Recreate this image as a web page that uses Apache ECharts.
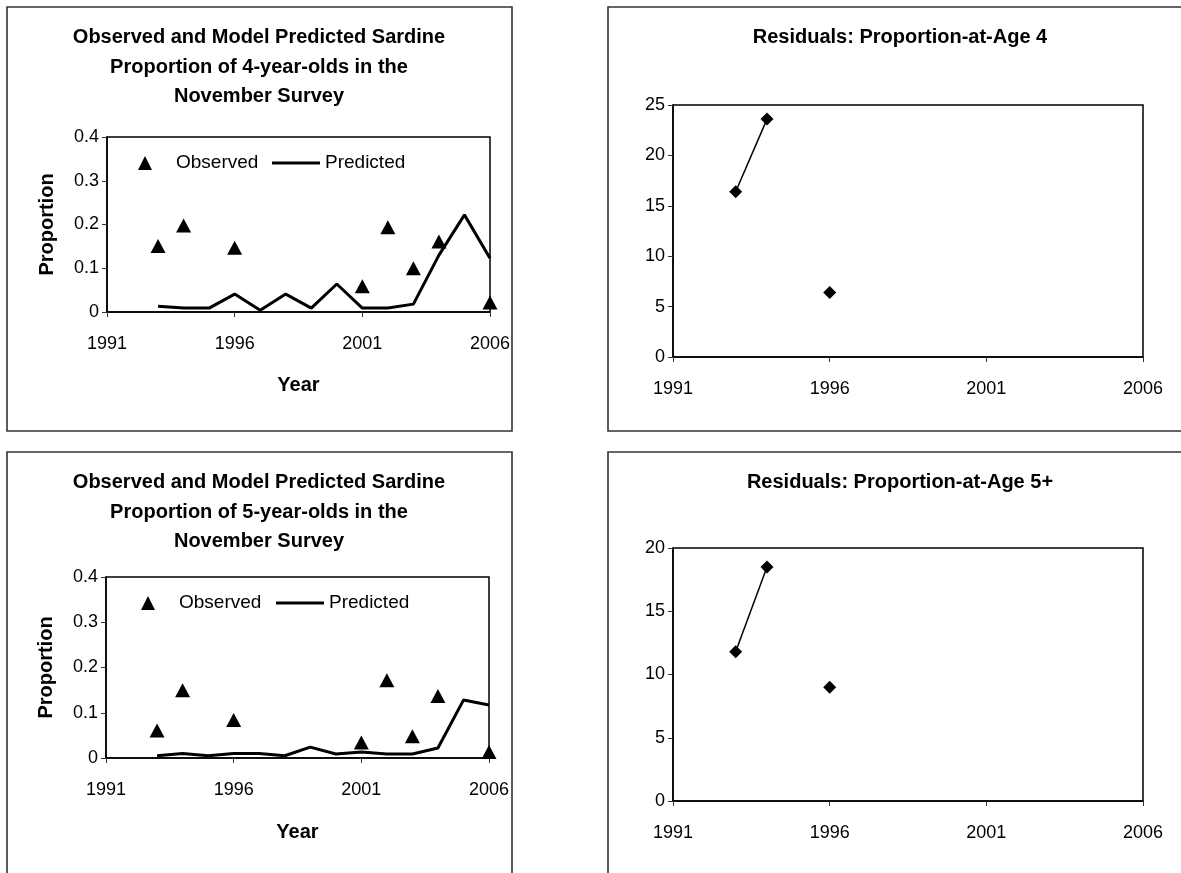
<!DOCTYPE html>
<html>
<head>
<meta charset="utf-8">
<script src="https://cdn.jsdelivr.net/npm/echarts@6/dist/echarts.min.js"></script>
<style>
  html, body { margin: 0; padding: 0; background: #fff; overflow: hidden; }
  #chart { width: 1181px; height: 873px; }
</style>
</head>
<body>
<div id="chart"></div>
<script>
// Survey years and observed proportions (triangles)
const obsYears = [1993, 1994, 1996, 2001, 2002, 2003, 2004, 2006];
const obsAge4 = [0.151, 0.198, 0.147, 0.059, 0.194, 0.100, 0.161, 0.022];
const obsAge5 = [0.061, 0.150, 0.084, 0.034, 0.172, 0.048, 0.137, 0.013];

// Model years and predicted proportions (line)
const predYears = [1993, 1994, 1995, 1996, 1997, 1998, 1999, 2000, 2001, 2002, 2003, 2004, 2005, 2006];
const predAge4 = [0.013, 0.009, 0.009, 0.041, 0.004, 0.041, 0.009, 0.064, 0.009, 0.009, 0.018, 0.130, 0.222, 0.123];
const predAge5 = [0.005, 0.010, 0.005, 0.010, 0.010, 0.005, 0.024, 0.009, 0.013, 0.009, 0.009, 0.022, 0.128, 0.117];

// Residuals (1995 missing, so the line breaks there)
const residYears = [1993, 1994, 1995, 1996];
const residAge4 = [16.4, 23.6, null, 6.4];
const residAge5 = [11.8, 18.5, null, 9.0];

// Axis settings
const yearTicks = { min: 1991, max: 2006, interval: 5 };
const propTicks = { min: 0, max: 0.4, interval: 0.1 };
const resid4Ticks = { min: 0, max: 25, interval: 5 };
const resid5Ticks = { min: 0, max: 20, interval: 5 };

const FONT = '"Liberation Sans", Arial, sans-serif';
const pairs = (xs, ys) => xs.map((x, i) => [x, ys[i]]);

function xAxisCfg(gridIndex, withName, nameGap) {
  return {
    type: 'value', gridIndex,
    min: yearTicks.min, max: yearTicks.max, interval: yearTicks.interval,
    axisLine: { show: true, onZero: false, lineStyle: { color: '#000', width: 1.5 } },
    axisTick: { show: true, inside: false, length: 5, lineStyle: { color: '#333', width: 1 } },
    axisLabel: { color: '#000', fontSize: 18, fontFamily: FONT, margin: 23,
                 formatter: (v) => String(v) },
    splitLine: { show: false },
    name: withName ? 'Year' : '',
    nameLocation: 'middle', nameGap: nameGap,
    nameTextStyle: { color: '#000', fontSize: 20, fontWeight: 'bold', fontFamily: FONT }
  };
}

function yAxisCfg(gridIndex, ticks, withName) {
  return {
    type: 'value', gridIndex,
    min: ticks.min, max: ticks.max, interval: ticks.interval,
    axisLine: { show: true, lineStyle: { color: '#000', width: 1.5 } },
    axisTick: { show: true, inside: false, length: 5, lineStyle: { color: '#333', width: 1 } },
    axisLabel: { color: '#000', fontSize: 18, fontFamily: FONT, margin: 8 },
    splitLine: { show: false },
    name: withName ? 'Proportion' : '',
    nameLocation: 'middle', nameGap: 50,
    nameTextStyle: { color: '#000', fontSize: 20, fontWeight: 'bold', fontFamily: FONT }
  };
}

const gridBase = { show: true, borderColor: '#000', borderWidth: 1.5, backgroundColor: 'transparent' };

function titleText(x, y, text) {
  return {
    type: 'text', x, y, silent: true,
    style: {
      text, fill: '#000', font: 'bold 20px ' + FONT,
      align: 'center', verticalAlign: 'top', lineHeight: 29.5
    }
  };
}

function panel(x, y, w, h) {
  return {
    type: 'rect', silent: true, z: -1,
    shape: { x, y, width: w, height: h },
    style: { fill: 'none', stroke: '#333', lineWidth: 1.6 }
  };
}

// Two one-item legends per panel: triangle marker, then a plain thick line
function legendPair(obsLeft, predLeft, centerY) {
  const common = {
    orient: 'horizontal', selectedMode: false, padding: 0, top: centerY - 8.5,
    textStyle: { color: '#000', fontSize: 19, fontFamily: FONT }
  };
  return [
    Object.assign({}, common, {
      left: obsLeft,
      data: [{ name: 'Observed', icon: 'triangle', itemStyle: { color: '#000', opacity: 1 } }],
      itemWidth: 14, itemHeight: 14,
      textStyle: Object.assign({}, common.textStyle, { padding: [0, 0, 0, 19] })
    }),
    Object.assign({}, common, {
      left: predLeft,
      data: [{ name: 'Predicted', icon: 'rect', itemStyle: { color: '#000' } }],
      itemWidth: 48, itemHeight: 3
    })
  ];
}

const chart = echarts.init(document.getElementById('chart'), null, { renderer: 'canvas' });

chart.setOption({
  animation: false,
  backgroundColor: '#fff',
  textStyle: { fontFamily: FONT },
  graphic: [
    panel(7, 7, 505, 424),
    panel(608, 7, 640, 424),
    panel(7, 452, 505, 460),
    panel(608, 452, 640, 460),
    titleText(259, 23, 'Observed and Model Predicted Sardine\nProportion of 4-year-olds in the\nNovember Survey'),
    titleText(900, 23, 'Residuals: Proportion-at-Age 4'),
    titleText(259, 468, 'Observed and Model Predicted Sardine\nProportion of 5-year-olds in the\nNovember Survey'),
    titleText(900, 468, 'Residuals: Proportion-at-Age 5+')
  ],
  legend: [].concat(legendPair(138, 272, 162), legendPair(141, 276, 602)),
  grid: [
    Object.assign({ left: 107, top: 137, width: 383, height: 175 }, gridBase),
    Object.assign({ left: 673, top: 105, width: 470, height: 252 }, gridBase),
    Object.assign({ left: 106, top: 577, width: 383, height: 181 }, gridBase),
    Object.assign({ left: 673, top: 548, width: 470, height: 253 }, gridBase)
  ],
  xAxis: [
    xAxisCfg(0, true, 63),
    xAxisCfg(1, false, 0),
    xAxisCfg(2, true, 64),
    xAxisCfg(3, false, 0)
  ],
  yAxis: [
    yAxisCfg(0, propTicks, true),
    yAxisCfg(1, resid4Ticks, false),
    yAxisCfg(2, propTicks, true),
    yAxisCfg(3, resid5Ticks, false)
  ],
  series: [
    {
      name: 'Predicted', type: 'line', xAxisIndex: 0, yAxisIndex: 0,
      data: pairs(predYears, predAge4), symbol: 'none',
      lineStyle: { color: '#000', width: 3 }, itemStyle: { color: '#000' }, z: 2
    },
    {
      name: 'Observed', type: 'scatter', xAxisIndex: 0, yAxisIndex: 0,
      data: pairs(obsYears, obsAge4), symbol: 'triangle', symbolSize: [15, 14],
      itemStyle: { color: '#000', opacity: 1 }, clip: false, z: 3
    },
    {
      name: 'Residual Age 4', type: 'line', xAxisIndex: 1, yAxisIndex: 1,
      data: pairs(residYears, residAge4), symbol: 'diamond', symbolSize: 13,
      showSymbol: true, connectNulls: false,
      lineStyle: { color: '#000', width: 1.5 }, itemStyle: { color: '#000' }
    },
    {
      name: 'Predicted', type: 'line', xAxisIndex: 2, yAxisIndex: 2,
      data: pairs(predYears, predAge5), symbol: 'none',
      lineStyle: { color: '#000', width: 3 }, itemStyle: { color: '#000' }, z: 2
    },
    {
      name: 'Observed', type: 'scatter', xAxisIndex: 2, yAxisIndex: 2,
      data: pairs(obsYears, obsAge5), symbol: 'triangle', symbolSize: [15, 14],
      itemStyle: { color: '#000', opacity: 1 }, clip: false, z: 3
    },
    {
      name: 'Residual Age 5+', type: 'line', xAxisIndex: 3, yAxisIndex: 3,
      data: pairs(residYears, residAge5), symbol: 'diamond', symbolSize: 13,
      showSymbol: true, connectNulls: false,
      lineStyle: { color: '#000', width: 1.5 }, itemStyle: { color: '#000' }
    }
  ]
});
</script>
</body>
</html>
